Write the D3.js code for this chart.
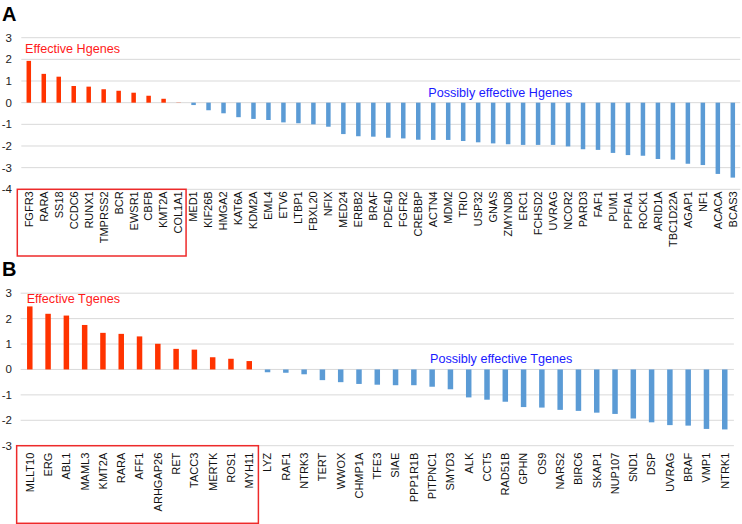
<!DOCTYPE html>
<html>
<head>
<meta charset="utf-8">
<script src="https://cdn.jsdelivr.net/npm/d3@7"></script>
<style>
  html, body { margin: 0; padding: 0; background: #fff; }
  svg { display: block; font-family: "Liberation Sans", Arial, Helvetica, sans-serif; }
</style>
</head>
<body>
<svg id="chart" width="742" height="524"></svg>
<script>
// ---- Data ----
const hGenes = ["FGFR3","RARA","SS18","CCDC6","RUNX1","TMPRSS2","BCR","EWSR1","CBFB","KMT2A","COL1A1",
  "MED1","KIF26B","HMGA2","KAT6A","KDM2A","EML4","ETV6","LTBP1","FBXL20","NFIX","MED24","ERBB2","BRAF",
  "PDE4D","FGFR2","CREBBP","ACTN4","MDM2","TRIO","USP32","GNAS","ZMYND8","ERC1","FCHSD2","UVRAG","NCOR2",
  "PARD3","FAF1","PUM1","PPFIA1","ROCK1","ARID1A","TBC1D22A","AGAP1","NF1","ACACA","BCAS3"];
const hValues = [1.93,1.33,1.20,0.77,0.74,0.62,0.55,0.46,0.32,0.18,0.01,
  -0.11,-0.35,-0.49,-0.67,-0.75,-0.80,-0.91,-0.95,-1.00,-1.11,-1.45,-1.55,-1.57,
  -1.62,-1.65,-1.71,-1.72,-1.72,-1.77,-1.83,-1.88,-1.92,-1.95,-1.95,-1.95,-2.02,
  -2.15,-2.18,-2.32,-2.42,-2.45,-2.60,-2.63,-2.82,-2.88,-3.29,-3.46];
const hEffectiveCount = 11;
const hTicks = [3,2,1,0,-1,-2,-3,-4];

const tGenes = ["MLLT10","ERG","ABL1","MAML3","KMT2A","RARA","AFF1","ARHGAP26","RET","TACC3","MERTK","ROS1","MYH11",
  "LYZ","RAF1","NTRK3","TERT","WWOX","CHMP1A","TFE3","SIAE","PPP1R1B","PITPNC1","SMYD3","ALK","CCT5",
  "RAD51B","GPHN","OS9","NARS2","BIRC6","SKAP1","NUP107","SND1","DSP","UVRAG","BRAF","VMP1","NTRK1"];
const tValues = [2.48,2.19,2.12,1.75,1.44,1.40,1.30,1.01,0.81,0.78,0.48,0.42,0.33,
  -0.11,-0.13,-0.19,-0.42,-0.50,-0.57,-0.60,-0.62,-0.62,-0.68,-0.78,-1.10,-1.19,
  -1.27,-1.48,-1.50,-1.59,-1.63,-1.70,-1.75,-1.93,-2.08,-2.19,-2.21,-2.34,-2.36];
const tEffectiveCount = 13;
const tTicks = [3,2,1,0,-1,-2,-3];

const panels = [
  { letter: "A", genes: hGenes, values: hValues, effCount: hEffectiveCount, ticks: hTicks,
    xRange: [21.3, 740.3], yDomain: [-4, 3], yRange: [189.3, 37.7], letterY: 21,
    labelGap: 2, boxBottom: 256,
    effLabel: "Effective Hgenes", effPos: [25, 52.7],
    posLabel: "Possibly effective Hgenes", posPos: [428.3, 97.3] },
  { letter: "B", genes: tGenes, values: tValues, effCount: tEffectiveCount, ticks: tTicks,
    xRange: [20.65, 733.9], yDomain: [-3, 3], yRange: [445.7, 293.2], letterY: 276,
    labelGap: 7, boxBottom: 523.3,
    effLabel: "Effective Tgenes", effPos: [26.7, 302.7],
    posLabel: "Possibly effective Tgenes", posPos: [430, 363.3] }
];

const RED = "#ff3300", BLUE = "#5b9bd5";
const svg = d3.select("#chart");

panels.forEach(p => {
  const g = svg.append("g");
  const x = d3.scaleBand().domain(p.genes).range(p.xRange).paddingInner(0.7).paddingOuter(0.35);
  const y = d3.scaleLinear().domain(p.yDomain).range(p.yRange);

  // gridlines
  g.append("g").selectAll("line").data(p.ticks).join("line")
    .attr("x1", p.xRange[0]).attr("x2", p.xRange[1])
    .attr("y1", d => y(d)).attr("y2", d => y(d))
    .attr("stroke", "#d9d9d9").attr("stroke-width", 1);

  // y tick labels
  g.append("g").selectAll("text").data(p.ticks).join("text")
    .attr("x", 12).attr("y", d => y(d)).attr("dy", "0.35em")
    .attr("text-anchor", "end").attr("font-size", 11.5).attr("fill", "#222")
    .text(d => d);

  // bars
  g.append("g").selectAll("rect").data(p.values).join("rect")
    .attr("x", (d, i) => x(p.genes[i]))
    .attr("width", x.bandwidth())
    .attr("y", d => y(Math.max(0, d)))
    .attr("height", d => Math.abs(y(d) - y(0)))
    .attr("fill", (d, i) => i < p.effCount ? RED : BLUE);

  // category labels
  const labelTop = y(p.yDomain[0]) + p.labelGap;
  g.append("g").selectAll("text").data(p.genes).join("text")
    .attr("transform", d => `translate(${x(d) + x.bandwidth() / 2},${labelTop}) rotate(-90)`)
    .attr("text-anchor", "end").attr("dy", "0.35em")
    .attr("font-size", 11).attr("fill", "#111")
    .text(d => d);

  // box around effective genes
  const step = x.step();
  const bx0 = p.xRange[0] - 4;
  const bx1 = p.xRange[0] + step * p.effCount;
  g.append("rect")
    .attr("x", bx0).attr("y", y(p.yDomain[0]))
    .attr("width", bx1 - bx0).attr("height", p.boxBottom - y(p.yDomain[0]))
    .attr("fill", "none").attr("stroke", "#ee2a2a").attr("stroke-width", 1.5);

  // annotations
  g.append("text").attr("x", p.effPos[0]).attr("y", p.effPos[1])
    .attr("font-size", 12.6).attr("fill", "#ff1a1a").text(p.effLabel);
  g.append("text").attr("x", p.posPos[0]).attr("y", p.posPos[1])
    .attr("font-size", 12.6).attr("fill", "#1a1aff").text(p.posLabel);

  // panel letter
  svg.append("text").attr("x", 2).attr("y", p.letterY)
    .attr("font-size", 20).attr("font-weight", "bold").attr("fill", "#000")
    .text(p.letter);
});
</script>
</body>
</html>
